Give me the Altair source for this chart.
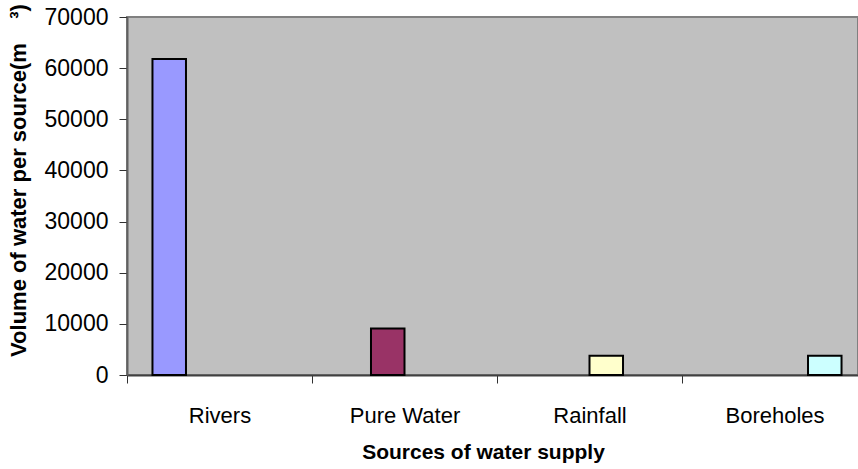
import altair as alt
import pandas as pd

categories = ["Rivers", "Pure Water", "Rainfall", "Boreholes"]
values = [61800, 9100, 3770, 3770]
colors = ["#9999FF", "#993366", "#FFFFCC", "#CCFFFF"]
y_ticks = [0, 10000, 20000, 30000, 40000, 50000, 60000, 70000]

df = pd.DataFrame({"Source": categories, "Volume": values})

FONT = "Liberation Sans"

chart = alt.Chart(df).mark_bar(stroke="black", strokeWidth=2).encode(
    x=alt.X(
        "Source:N",
        sort=categories,
        scale=alt.Scale(domain=categories, range=[0, 740], paddingInner=0, paddingOuter=0),
        axis=alt.Axis(
            title="Sources of water supply",
            titleFont=FONT, titleFontSize=21, titleFontWeight="bold", titleColor="black",
            titleX=356, titleY=77, titleBaseline="middle", titleAlign="center",
            labelFont=FONT, labelFontSize=22, labelColor="black", labelAngle=0,
            labelPadding=22, tickBand="extent", tickSize=8, tickColor="#303030", tickWidth=1,
            domainColor="#404040", domainWidth=2, grid=False,
        ),
    ),
    xOffset=alt.XOffset(
        "Source:N",
        sort=categories,
        scale=alt.Scale(domain=categories, paddingOuter=0.76, paddingInner=0),
    ),
    y=alt.Y(
        "Volume:Q",
        scale=alt.Scale(domain=[0, 70000], nice=False),
        axis=alt.Axis(
            title="Volume of water per source(m\u00a0\u00a0\u00a0\u00a0³)",
            titleFont=FONT, titleFontSize=22, titleFontWeight="bold", titleColor="black",
            titleX=-109, titleY=163, titleAngle=270, titleAlign="center", titleBaseline="middle",
            values=y_ticks, format="d",
            labelFont=FONT, labelFontSize=23, labelColor="black", labelPadding=11,
            tickSize=8, tickColor="#303030", tickWidth=1,
            domainColor="#606060", domainWidth=2, grid=False,
        ),
    ),
    color=alt.Color("Source:N", scale=alt.Scale(domain=categories, range=colors), legend=None),
).properties(
    width=731,
    height=358,
    background="white",
    autosize=alt.AutoSizeParams(type="none"),
    padding={"left": 127, "top": 17, "right": 0, "bottom": 94},
).configure_view(
    fill="#C0C0C0", stroke="#808080", strokeWidth=2
)

chart.save("out.html", embed_options={"renderer": "svg", "actions": False})
